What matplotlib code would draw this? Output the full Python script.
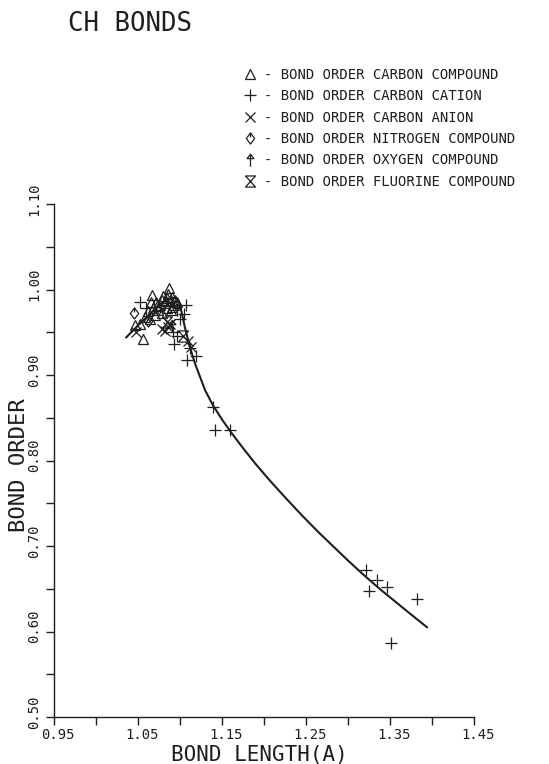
import numpy as np
import matplotlib
matplotlib.use("Agg")
import matplotlib.pyplot as plt
from matplotlib.path import Path
from matplotlib.transforms import ScaledTranslation

plt.rcParams['font.family'] = ['DejaVu Sans Mono', 'DejaVu Sans']

INK = '#1e1e1e'

# ---------------- data ----------------
carbon_x = [1.056, 1.052, 1.067, 1.087, 1.058, 1.062, 1.068, 1.072, 1.076, 1.079,
            1.082, 1.085, 1.088, 1.091, 1.094, 1.097, 1.084, 1.078, 1.090, 1.070,
            1.074, 1.064, 1.046, 1.080, 1.086, 1.093, 1.073, 1.066, 1.083, 1.089]
carbon_y = [0.942, 0.960, 0.993, 1.002, 0.968, 0.975, 0.978, 0.985, 0.982, 0.988,
            0.984, 0.990, 0.986, 0.991, 0.988, 0.985, 0.978, 0.972, 0.980, 0.970,
            0.976, 0.966, 0.958, 0.992, 0.995, 0.982, 0.981, 0.985, 0.987, 0.976]

cation_x = [1.052, 1.107, 1.105, 1.092, 1.096, 1.093, 1.108, 1.119, 1.112, 1.139,
            1.142, 1.160, 1.321, 1.334, 1.347, 1.325, 1.382, 1.351, 1.060, 1.100]
cation_y = [0.985, 0.982, 0.971, 0.950, 0.946, 0.936, 0.917, 0.922, 0.932, 0.863,
            0.836, 0.836, 0.672, 0.660, 0.652, 0.647, 0.638, 0.587, 0.978, 0.965]

anion_x = [1.048, 1.078, 1.082, 1.088, 1.110, 1.113, 1.086]
anion_y = [0.950, 0.954, 0.952, 0.960, 0.940, 0.933, 0.956]

nitrogen_x = [1.045, 1.062]
nitrogen_y = [0.973, 0.963]

oxygen_x = [1.090, 1.097]
oxygen_y = [0.957, 0.976]

fluorine_x = [1.104, 1.085]
fluorine_y = [0.946, 0.962]

curve_x = [1.036, 1.050, 1.065, 1.078, 1.088, 1.095, 1.100, 1.106, 1.112, 1.118,
           1.130, 1.139, 1.150, 1.160, 1.175, 1.190, 1.207, 1.225, 1.245, 1.265,
           1.283, 1.300, 1.320, 1.340, 1.360, 1.380, 1.394]
curve_y = [0.944, 0.958, 0.972, 0.984, 0.990, 0.990, 0.982, 0.955, 0.932, 0.913,
           0.882, 0.865, 0.848, 0.834, 0.8145, 0.796, 0.7765, 0.757, 0.736, 0.716,
           0.699, 0.683, 0.665, 0.648, 0.632, 0.616, 0.605]

x_ticks = [0.95, 1.00, 1.05, 1.10, 1.15, 1.20, 1.25, 1.30, 1.35, 1.40, 1.45]
x_tick_labels = ['0.95', '', '1.05', '', '1.15', '', '1.25', '', '1.35', '', '1.45']
y_ticks = [0.50, 0.55, 0.60, 0.65, 0.70, 0.75, 0.80, 0.85, 0.90, 0.95, 1.00, 1.05, 1.10]
y_tick_labels = ['0.50', '', '0.60', '', '0.70', '', '0.80', '', '0.90', '', '1.00', '', '1.10']

series_labels = ['- BOND ORDER CARBON COMPOUND',
                 '- BOND ORDER CARBON CATION',
                 '- BOND ORDER CARBON ANION',
                 '- BOND ORDER NITROGEN COMPOUND',
                 '- BOND ORDER OXYGEN COMPOUND',
                 '- BOND ORDER FLUORINE COMPOUND']

# ---------------- marker shapes ----------------
M, L = Path.MOVETO, Path.LINETO
diamond_mk = Path([(0, 1), (0.75, 0), (0, -1), (-0.75, 0), (0, 1), (0, 0.2)],
                  [M, L, L, L, L, L])
arrow_mk = Path([(0, -1), (0, 1), (-0.55, 0.3), (0.55, 0.3), (0, 1)],
                [M, L, L, L, L])
hour_mk = Path([(-0.9, 1), (0.9, 1), (-0.9, -1), (0.9, -1), (-0.9, 1)],
               [M, L, L, L, L])

# ---------------- figure ----------------
fig = plt.figure(figsize=(5.49, 7.64), dpi=100)
W, H = 549, 764
ax = fig.add_axes([54 / W, 1 - 717 / H, 420 / W, (717 - 204) / H])
ax.set_xlim(0.95, 1.45)
ax.set_ylim(0.50, 1.10)

ax.plot(curve_x, curve_y, color=INK, lw=1.5, zorder=2, solid_joinstyle='round')

common = dict(linestyle='none', color=INK, mfc='none', mew=0.9, zorder=3)
h1, = ax.plot(carbon_x, carbon_y, marker='^', ms=6.5, **common)
h2, = ax.plot(cation_x, cation_y, marker='+', ms=9, **common)
h3, = ax.plot(anion_x, anion_y, marker='x', ms=6.5, **common)
h4, = ax.plot(nitrogen_x, nitrogen_y, marker=diamond_mk, ms=8, **common)
h5, = ax.plot(oxygen_x, oxygen_y, marker=arrow_mk, ms=9, **common)
h6, = ax.plot(fluorine_x, fluorine_y, marker=hour_mk, ms=8, **common)

for s in ['top', 'right']:
    ax.spines[s].set_visible(False)
for s in ['left', 'bottom']:
    ax.spines[s].set_linewidth(1.0)
    ax.spines[s].set_color(INK)

ax.set_xticks(x_ticks)
ax.set_xticklabels(x_tick_labels)
ax.set_yticks(y_ticks)
ax.set_yticklabels(y_tick_labels, rotation=90, va='center', ha='right')
ax.tick_params(direction='out', length=6, width=1.0, colors=INK, labelsize=10)
ax.tick_params(axis='x', pad=2)
ax.tick_params(axis='y', pad=3)

for lab in ax.get_xticklabels():
    lab.set_transform(lab.get_transform() + ScaledTranslation(4 / 100, 0, fig.dpi_scale_trans))
for lab in ax.get_yticklabels():
    lab.set_transform(lab.get_transform() + ScaledTranslation(0, 5 / 100, fig.dpi_scale_trans))

fig.text(68 / W, 1 - 24 / H, 'CH BONDS', ha='left', va='center', fontsize=18.5, color=INK)
fig.text(259 / W, 1 - 761 / H, 'BOND LENGTH(A)', ha='center', va='baseline', fontsize=15, color=INK)
fig.text(19 / W, 1 - 465 / H, 'BOND ORDER', ha='center', va='center', rotation=90,
         fontsize=16, color=INK)

leg = ax.legend([h1, h2, h3, h4, h5, h6], series_labels, loc='upper left',
                bbox_to_anchor=(243 / W, 1 - 68 / H), bbox_transform=fig.transFigure,
                frameon=False, fontsize=10, handlelength=1.0, handletextpad=0.5,
                borderpad=0, borderaxespad=0, labelspacing=0.53)
for t in leg.get_texts():
    t.set_color(INK)

fig.savefig('out.png', dpi=100, facecolor='white')
